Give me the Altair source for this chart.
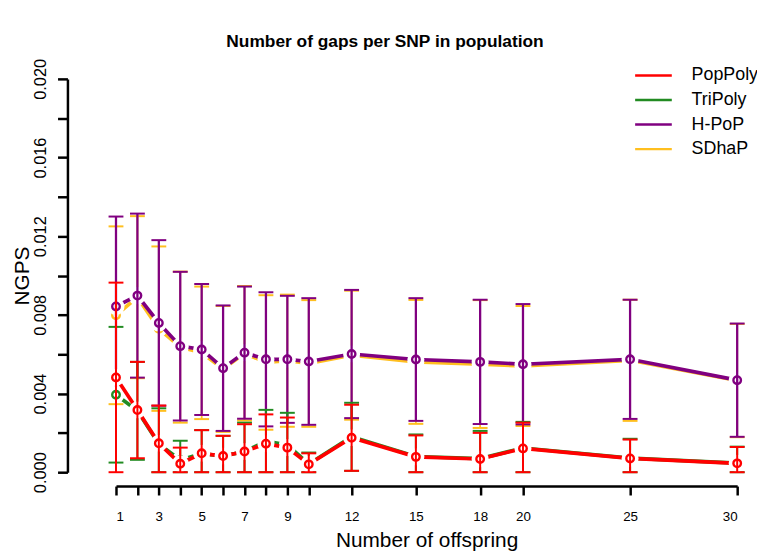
import altair as alt
import pandas as pd

# ---- data ----
offspring = [1, 2, 3, 4, 5, 6, 7, 8, 9, 10, 12, 15, 18, 20, 25, 30]

methods = ["PopPoly", "TriPoly", "H-PoP", "SDhaP"]
colors = ["#FF0000", "#228B22", "#800080", "#FFBF1F"]

poppoly_mean = [0.00482, 0.00316, 0.00147, 0.00043, 0.00096, 0.00082, 0.00105, 0.00145,
                0.00125, 0.00040, 0.00175, 0.00078, 0.00067, 0.00121, 0.00070, 0.00045]
poppoly_sd = [0.00482, 0.00245, 0.00192, 0.00082, 0.00118, 0.00103, 0.00139, 0.00149,
              0.00153, 0.00056, 0.00168, 0.00109, 0.00133, 0.00131, 0.00096, 0.00083]

tripoly_mean = [0.00394, 0.00312, 0.00144, 0.00062, 0.00094, 0.00082, 0.00105, 0.00158,
                0.00138, 0.00042, 0.00180, 0.00080, 0.00069, 0.00123, 0.00072, 0.00046]
tripoly_sd = [0.00345, 0.00249, 0.00181, 0.00098, 0.00120, 0.00103, 0.00147, 0.00159,
              0.00164, 0.00058, 0.00173, 0.00112, 0.00141, 0.00133, 0.00098, 0.00084]

hpop_mean = [0.00843, 0.00898, 0.00759, 0.00641, 0.00624, 0.00529, 0.00608, 0.00574,
             0.00574, 0.00563, 0.00601, 0.00573, 0.00561, 0.00549, 0.00574, 0.00468]
hpop_sd = [0.00457, 0.00417, 0.00421, 0.00378, 0.00333, 0.00319, 0.00336, 0.00341,
           0.00323, 0.00322, 0.00326, 0.00312, 0.00316, 0.00306, 0.00303, 0.00288]

sdhap_mean = [0.00798, 0.00890, 0.00730, 0.00636, 0.00607, 0.00525, 0.00605, 0.00558,
              0.00567, 0.00553, 0.00595, 0.00561, 0.00550, 0.00540, 0.00569, 0.00466]
sdhap_sd = [0.00452, 0.00412, 0.00418, 0.00384, 0.00337, 0.00320, 0.00342, 0.00342,
            0.00336, 0.00322, 0.00328, 0.00315, 0.00325, 0.00305, 0.00308, 0.00288]

x_ticks = [1, 2, 3, 4, 5, 6, 7, 8, 9, 10, 12, 15, 18, 20, 25, 30]
y_ticks = [0.0, 0.002, 0.004, 0.006, 0.008, 0.010, 0.012, 0.014, 0.016, 0.018, 0.020]

means = {"PopPoly": poppoly_mean, "TriPoly": tripoly_mean, "H-PoP": hpop_mean, "SDhaP": sdhap_mean}
sds = {"PopPoly": poppoly_sd, "TriPoly": tripoly_sd, "H-PoP": hpop_sd, "SDhaP": sdhap_sd}

rows = []
for m in methods:
    for xo, mu, s in zip(offspring, means[m], sds[m]):
        rows.append({"offspring": xo, "method": m, "mean": mu, "sd": s})
df = pd.DataFrame(rows)

FONT = "Liberation Sans"

x_axis = alt.Axis(values=x_ticks,
                  labelExpr="indexof([2,4,6,8,10], datum.value) >= 0 ? '' : datum.label",
                  offset=14, grid=False, tickSize=9, tickWidth=2.5, domainWidth=2.5,
                  domainColor="black", tickColor="black", labelFontSize=13.5,
                  labelPadding=15, titleFontSize=21, titlePadding=6,
                  labelFont=FONT, titleFont=FONT, titleFontWeight="normal",
                  labelColor="black", titleColor="black", labelOverlap=False)
y_axis = alt.Axis(values=y_ticks,
                  labelExpr="(round(datum.value*1000) % 4 == 0) ? format(datum.value, '.3f') : ''",
                  labelAngle=-90, offset=49, grid=False, tickSize=10, tickWidth=2.5,
                  domainWidth=2.5, domainColor="black", tickColor="black",
                  labelFontSize=16.5, labelPadding=9, titleFontSize=21, titlePadding=0,
                  labelFont=FONT, titleFont=FONT, titleFontWeight="normal",
                  labelColor="black", titleColor="black", labelOverlap=False)

xs = alt.Scale(domain=[1, 30], nice=False, zero=False)
ys = alt.Scale(domain=[0, 0.02], nice=False, zero=False)

X = alt.X("offspring:Q", scale=xs, axis=x_axis, title="Number of offspring")


def Y(field):
    return alt.Y(field, scale=ys, axis=y_axis, title="NGPS")


color_enc = alt.Color("method:N",
                      scale=alt.Scale(domain=methods, range=colors),
                      legend=alt.Legend(title=None, orient="none", legendX=531, legendY=-15,
                                        symbolType="M-1.85,0H1.85", symbolSize=400,
                                        symbolStrokeWidth=2.5, labelFontSize=18,
                                        labelFont=FONT, labelColor="black",
                                        labelOffset=27, rowPadding=3.8, padding=0))

draw_order = ["SDhaP", "H-PoP", "TriPoly", "PopPoly"]
rule_width = {"SDhaP": 1.8, "H-PoP": 2.3, "TriPoly": 2, "PopPoly": 2}
layers = []
for m in draw_order:
    col = colors[methods.index(m)]
    base = alt.Chart(df).transform_filter(alt.datum.method == m).transform_calculate(
        lo="max(0, datum.mean - datum.sd)", hi="datum.mean + datum.sd")
    layers.append(base.mark_line(strokeWidth=3.7).encode(x=X, y=Y("mean:Q"), color=color_enc))
    # white ring leaves the gap R draws around each point (type = "b")
    layers.append(base.mark_point(shape="circle", filled=False, fill="white", fillOpacity=1,
                                  stroke="white", strokeWidth=3.6, size=185,
                                  opacity=1).encode(x=X, y=Y("mean:Q")))
    layers.append(base.mark_point(shape="circle", filled=False, color=col, fill="white",
                                  fillOpacity=1, size=58, opacity=1,
                                  strokeWidth=2.4).encode(x=X, y=Y("mean:Q")))
    layers.append(base.mark_rule(strokeWidth=rule_width[m], color=col).encode(
        x=X, y=Y("lo:Q"), y2="hi:Q"))
    layers.append(base.mark_tick(orient="horizontal", size=15, thickness=2, color=col,
                                 opacity=1).encode(x=X, y=Y("hi:Q")))
    layers.append(base.mark_tick(orient="horizontal", size=15, thickness=2, color=col,
                                 opacity=1).encode(x=X, y=Y("lo:Q")))

chart = alt.layer(*layers).properties(
    width=627, height=397,
    autosize=alt.AutoSizeParams(type="none"),
    padding={"left": 109, "top": 69, "right": 20, "bottom": 79},
    title=alt.TitleParams("Number of gaps per SNP in population", fontSize=17.5,
                          fontWeight="bold", font=FONT, color="black",
                          anchor="middle", dx=-42, offset=8),
).configure(background="white").configure_view(strokeWidth=0, stroke="transparent")

chart.save("out.html", embed_options={"renderer": "svg", "actions": False})
